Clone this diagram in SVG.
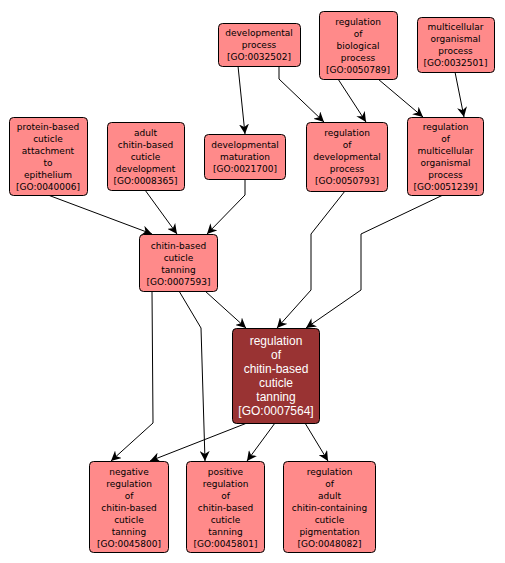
<svg xmlns="http://www.w3.org/2000/svg" width="505" height="563" viewBox="0 0 505 563">
<defs>
<style>
.n rect{fill:#ff8a8a;stroke:#000;stroke-width:1}
.n text{font-family:"DejaVu Sans",sans-serif;font-size:9px;fill:#000;text-anchor:middle}
.d rect{fill:#993333;stroke:#000;stroke-width:1}
.d text{font-family:"Liberation Sans",Arial,sans-serif;font-size:12px;fill:#fff;text-anchor:middle}
.e path{fill:none;stroke:#000;stroke-width:1;marker-end:url(#ah)}
</style>
<marker id="ah" viewBox="0 0 10 10" refX="10" refY="5" markerWidth="10" markerHeight="10" markerUnits="userSpaceOnUse" orient="auto">
<path d="M0,0 L10,5 L0,10 L3,5 z" fill="#000"/>
</marker>
</defs>
<rect width="505" height="563" fill="#fff"/>
<g id="edges" class="e">
<path d="M238,66 L245,134"/>
<path d="M279,66 L279,79 L324,122"/>
<path d="M338,79 L366,122"/>
<path d="M378,79 L423,117"/>
<path d="M455,72 L464,117"/>
<path d="M48,195 L152,234"/>
<path d="M145,190 L177,234"/>
<path d="M245,179 L245,195 L207,234"/>
<path d="M345,191 L311,234 L311,290 L277,328"/>
<path d="M443,195 L361,234 L361,290 L306,328"/>
<path d="M205,291 L246,328"/>
<path d="M152,291 L153,423 L111,461"/>
<path d="M179,291 L201,328 L205,461"/>
<path d="M247,423 L150,461"/>
<path d="M275,423 L247,461"/>
<path d="M305,423 L328,461"/>
</g>
<g id="GO0032502" class="n"><rect x="218.5" y="23.5" width="82" height="43" rx="4"/>
<text x="259" y="36">developmental</text><text x="259" y="48">process</text><text x="259" y="60">[GO:0032502]</text></g>
<g id="GO0050789" class="n"><rect x="319.5" y="11.5" width="78" height="68" rx="4"/>
<text x="358" y="25">regulation</text><text x="358" y="37">of</text><text x="358" y="49">biological</text><text x="358" y="61">process</text><text x="358" y="73">[GO:0050789]</text></g>
<g id="GO0032501" class="n"><rect x="417.5" y="17.5" width="77" height="55" rx="4"/>
<text x="455.5" y="30">multicellular</text><text x="455.5" y="42">organismal</text><text x="455.5" y="54">process</text><text x="455.5" y="66">[GO:0032501]</text></g>
<g id="GO0040006" class="n"><rect x="9.5" y="117.5" width="78" height="78" rx="4"/>
<text x="48" y="130">protein-based</text><text x="48" y="142">cuticle</text><text x="48" y="154">attachment</text><text x="48" y="166">to</text><text x="48" y="178">epithelium</text><text x="48" y="190">[GO:0040006]</text></g>
<g id="GO0008365" class="n"><rect x="107.5" y="122.5" width="77" height="68" rx="4"/>
<text x="145.5" y="136">adult</text><text x="145.5" y="148">chitin-based</text><text x="145.5" y="160">cuticle</text><text x="145.5" y="172">development</text><text x="145.5" y="184">[GO:0008365]</text></g>
<g id="GO0021700" class="n"><rect x="204.5" y="134.5" width="81" height="45" rx="4"/>
<text x="245" y="148">developmental</text><text x="245" y="160">maturation</text><text x="245" y="172">[GO:0021700]</text></g>
<g id="GO0050793" class="n"><rect x="306.5" y="122.5" width="81" height="69" rx="4"/>
<text x="347" y="136">regulation</text><text x="347" y="148">of</text><text x="347" y="160">developmental</text><text x="347" y="172">process</text><text x="347" y="184">[GO:0050793]</text></g>
<g id="GO0051239" class="n"><rect x="407.5" y="117.5" width="76" height="78" rx="4"/>
<text x="445.5" y="130">regulation</text><text x="445.5" y="142">of</text><text x="445.5" y="154">multicellular</text><text x="445.5" y="166">organismal</text><text x="445.5" y="178">process</text><text x="445.5" y="190">[GO:0051239]</text></g>
<g id="GO0007593" class="n"><rect x="139.5" y="234.5" width="78" height="57" rx="4"/>
<text x="178.5" y="248.5">chitin-based</text><text x="178.5" y="260.5">cuticle</text><text x="178.5" y="272.5">tanning</text><text x="178.5" y="284.5">[GO:0007593]</text></g>
<g id="GO0007564" class="d"><rect x="232.5" y="328.5" width="87" height="95" rx="4"/>
<text x="276" y="345">regulation</text><text x="276" y="359">of</text><text x="276" y="373">chitin-based</text><text x="276" y="387">cuticle</text><text x="276" y="401">tanning</text><text x="276" y="415">[GO:0007564]</text></g>
<g id="GO0045800" class="n"><rect x="89.5" y="461.5" width="79" height="91" rx="4"/>
<text x="129" y="475">negative</text><text x="129" y="487">regulation</text><text x="129" y="499">of</text><text x="129" y="511">chitin-based</text><text x="129" y="523">cuticle</text><text x="129" y="535">tanning</text><text x="129" y="547">[GO:0045800]</text></g>
<g id="GO0045801" class="n"><rect x="186.5" y="461.5" width="78" height="91" rx="4"/>
<text x="225.5" y="475">positive</text><text x="225.5" y="487">regulation</text><text x="225.5" y="499">of</text><text x="225.5" y="511">chitin-based</text><text x="225.5" y="523">cuticle</text><text x="225.5" y="535">tanning</text><text x="225.5" y="547">[GO:0045801]</text></g>
<g id="GO0048082" class="n"><rect x="283.5" y="461.5" width="92" height="91" rx="4"/>
<text x="329.5" y="475">regulation</text><text x="329.5" y="487">of</text><text x="329.5" y="499">adult</text><text x="329.5" y="511">chitin-containing</text><text x="329.5" y="523">cuticle</text><text x="329.5" y="535">pigmentation</text><text x="329.5" y="547">[GO:0048082]</text></g>
</svg>
